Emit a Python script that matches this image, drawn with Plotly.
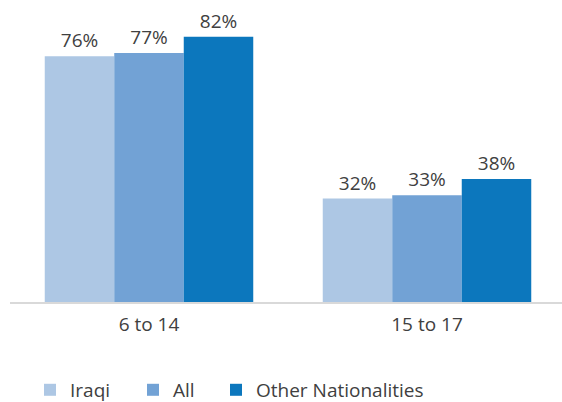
import plotly.graph_objects as go

# data
age_groups = ["6 to 14", "15 to 17"]
series_names = ["Iraqi", "All", "Other Nationalities"]
iraqi = [76, 32]
all_nat = [77, 33]
other_nat = [82, 38]

colors = ["#adc7e4", "#72a2d5", "#0c77bd"]
font_family = "Open Sans, Noto Sans, sans-serif"
text_color = "#404040"

# one legend per series so each entry can sit where the reference has it
legend_ids = ["legend", "legend2", "legend3"]
legend_x = [30 / 562, 133 / 562, 216 / 562]

fig = go.Figure()
for name, vals, color, lid in zip(series_names, [iraqi, all_nat, other_nat], colors, legend_ids):
    fig.add_trace(go.Bar(
        x=age_groups, y=vals, name=name, legend=lid, showlegend=True,
        marker=dict(color=color, line=dict(width=0)),
        text=[f"{v}%" for v in vals], textposition="outside",
        textfont=dict(size=19, color=text_color, family=font_family),
        constraintext="none", cliponaxis=False, hoverinfo="skip"
    ))

legend_style = dict(orientation="h", xref="container", yref="container",
                    xanchor="left", y=0.03, yanchor="middle",
                    font=dict(size=19, color=text_color), bgcolor="rgba(0,0,0,0)")
fig.update_layout(
    width=562, height=402, showlegend=True,
    margin=dict(l=10, r=0, t=10, b=100, autoexpand=False),
    barmode="group", bargap=0.25, bargroupgap=0,
    plot_bgcolor="white", paper_bgcolor="white",
    font=dict(family=font_family, color=text_color, size=19),
    legend=dict(x=legend_x[0], **legend_style),
    legend2=dict(x=legend_x[1], **legend_style),
    legend3=dict(x=legend_x[2], **legend_style),
)
fig.update_xaxes(range=[-0.5, 1.4856], showline=True, linecolor="#d9d9d9", linewidth=2,
                 ticks="", ticklabelstandoff=4, tickfont=dict(size=19, color=text_color),
                 showgrid=False)
fig.update_yaxes(range=[0, 90.3], visible=False, showgrid=False, zeroline=False)

fig.write_html("out.html", config={"displayModeBar": False},
               post_script="document.body.style.margin='0';")
